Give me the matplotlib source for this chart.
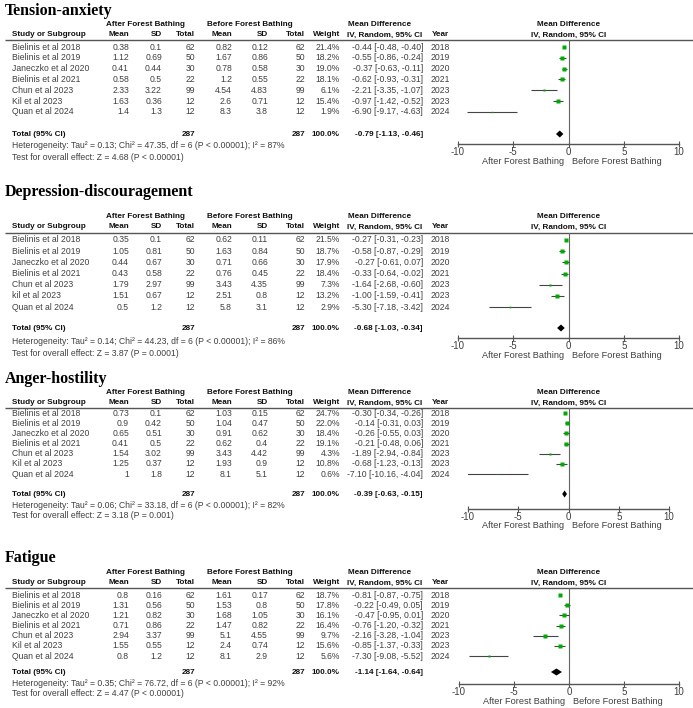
import matplotlib
matplotlib.use("Agg")
import matplotlib.pyplot as plt

W, H = 693, 708

studies = ["Bielinis et al 2018", "Bielinis et al 2019", "Janeczko et al 2020",
           "Bielinis et al 2021", "Chun et al 2023", "Kil et al 2023", "Quan et al 2024"]
dep_studies = ["Bielinis et al 2018", "Bielinis et al 2019", "Janeczko et al 2020",
               "Bielinis et al 2021", "Chun et al 2023", "kil et al 2023", "Quan et al 2024"]
years = [2018, 2019, 2020, 2021, 2023, 2023, 2024]
n_after = [62, 50, 30, 22, 99, 12, 12]
n_before = [62, 50, 30, 22, 99, 12, 12]
total_weight = "100.0%"

# Tension-anxiety
ta_m1 = [0.38, 1.12, 0.41, 0.58, 2.33, 1.63, 1.4]
ta_sd1 = [0.1, 0.69, 0.44, 0.5, 3.22, 0.36, 1.3]
ta_m2 = [0.82, 1.67, 0.78, 1.2, 4.54, 2.6, 8.3]
ta_sd2 = [0.12, 0.86, 0.58, 0.55, 4.83, 0.71, 3.8]
ta_w = [21.4, 18.2, 19.0, 18.1, 6.1, 15.4, 1.9]
ta_md = [-0.44, -0.55, -0.37, -0.62, -2.21, -0.97, -6.90]
ta_lo = [-0.48, -0.86, -0.63, -0.93, -3.35, -1.42, -9.17]
ta_hi = [-0.40, -0.24, -0.11, -0.31, -1.07, -0.52, -4.63]
ta_total = (-0.79, -1.13, -0.46)
ta_het = "Heterogeneity: Tau² = 0.13; Chi² = 47.35, df = 6 (P < 0.00001); I² = 87%"
ta_z = "Test for overall effect: Z = 4.68 (P < 0.00001)"

# Depression-discouragement
dd_m1 = [0.35, 1.05, 0.44, 0.43, 1.79, 1.51, 0.5]
dd_sd1 = [0.1, 0.81, 0.67, 0.58, 2.97, 0.67, 1.2]
dd_m2 = [0.62, 1.63, 0.71, 0.76, 3.43, 2.51, 5.8]
dd_sd2 = [0.11, 0.84, 0.66, 0.45, 4.35, 0.8, 3.1]
dd_w = [21.5, 18.7, 17.9, 18.4, 7.3, 13.2, 2.9]
dd_md = [-0.27, -0.58, -0.27, -0.33, -1.64, -1.00, -5.30]
dd_lo = [-0.31, -0.87, -0.61, -0.64, -2.68, -1.59, -7.18]
dd_hi = [-0.23, -0.29, 0.07, -0.02, -0.60, -0.41, -3.42]
dd_total = (-0.68, -1.03, -0.34)
dd_het = "Heterogeneity: Tau² = 0.14; Chi² = 44.23, df = 6 (P < 0.00001); I² = 86%"
dd_z = "Test for overall effect: Z = 3.87 (P = 0.0001)"

# Anger-hostility
ah_m1 = [0.73, 0.9, 0.65, 0.41, 1.54, 1.25, 1]
ah_sd1 = [0.1, 0.42, 0.51, 0.5, 3.02, 0.37, 1.8]
ah_m2 = [1.03, 1.04, 0.91, 0.62, 3.43, 1.93, 8.1]
ah_sd2 = [0.15, 0.47, 0.62, 0.4, 4.42, 0.9, 5.1]
ah_w = [24.7, 22.0, 18.4, 19.1, 4.3, 10.8, 0.6]
ah_md = [-0.30, -0.14, -0.26, -0.21, -1.89, -0.68, -7.10]
ah_lo = [-0.34, -0.31, -0.55, -0.48, -2.94, -1.23, -10.16]
ah_hi = [-0.26, 0.03, 0.03, 0.06, -0.84, -0.13, -4.04]
ah_total = (-0.39, -0.63, -0.15)
ah_het = "Heterogeneity: Tau² = 0.06; Chi² = 33.18, df = 6 (P < 0.00001); I² = 82%"
ah_z = "Test for overall effect: Z = 3.18 (P = 0.001)"

# Fatigue
fa_m1 = [0.8, 1.31, 1.21, 0.71, 2.94, 1.55, 0.8]
fa_sd1 = [0.16, 0.56, 0.82, 0.86, 3.37, 0.55, 1.2]
fa_m2 = [1.61, 1.53, 1.68, 1.47, 5.1, 2.4, 8.1]
fa_sd2 = [0.17, 0.8, 1.05, 0.82, 4.55, 0.74, 2.9]
fa_w = [18.7, 17.8, 16.1, 16.4, 9.7, 15.6, 5.6]
fa_md = [-0.81, -0.22, -0.47, -0.76, -2.16, -0.85, -7.30]
fa_lo = [-0.87, -0.49, -0.95, -1.20, -3.28, -1.37, -9.08]
fa_hi = [-0.75, 0.05, 0.01, -0.32, -1.04, -0.33, -5.52]
fa_total = (-1.14, -1.64, -0.64)
fa_het = "Heterogeneity: Tau² = 0.35; Chi² = 76.72, df = 6 (P < 0.00001); I² = 92%"
fa_z = "Test for overall effect: Z = 4.47 (P < 0.00001)"

panels = [
    dict(title="Tension-anxiety", names=studies, m1=ta_m1, sd1=ta_sd1, m2=ta_m2, sd2=ta_sd2,
         w=ta_w, md=ta_md, lo=ta_lo, hi=ta_hi, total=ta_total, het=ta_het, z=ta_z),
    dict(title="Depression-discouragement", names=dep_studies, m1=dd_m1, sd1=dd_sd1, m2=dd_m2,
         sd2=dd_sd2, w=dd_w, md=dd_md, lo=dd_lo, hi=dd_hi, total=dd_total, het=dd_het, z=dd_z),
    dict(title="Anger-hostility", names=studies, m1=ah_m1, sd1=ah_sd1, m2=ah_m2, sd2=ah_sd2,
         w=ah_w, md=ah_md, lo=ah_lo, hi=ah_hi, total=ah_total, het=ah_het, z=ah_z),
    dict(title="Fatigue", names=studies, m1=fa_m1, sd1=fa_sd1, m2=fa_m2, sd2=fa_sd2,
         w=fa_w, md=fa_md, lo=fa_lo, hi=fa_hi, total=fa_total, het=fa_het, z=fa_z),
]

# pixel layout of each panel
layouts = [
    dict(title_y=11, grp_y=24, hdr_y=35, line_y=40, row0=47, step=10.8, total_y=134,
         het_y=146, test_y=157, axis_y=144, fx0=458, fx1=679),
    dict(title_y=192, grp_y=216, hdr_y=227, line_y=233, row0=240, step=11.2, total_y=328,
         het_y=342, test_y=353, axis_y=338, fx0=458, fx1=679),
    dict(title_y=379, grp_y=393, hdr_y=403, line_y=408, row0=413, step=10.2, total_y=494,
         het_y=506, test_y=515, axis_y=509, fx0=468, fx1=669),
    dict(title_y=558, grp_y=573, hdr_y=583, line_y=588, row0=595, step=10.2, total_y=672,
         het_y=684, test_y=694, axis_y=684, fx0=459, fx1=679),
]

FS = 6.2
FSB = 5.9
TXT = "#404040"
GREEN = "#00aa00"
plt.rcParams["font.family"] = ["Liberation Sans", "DejaVu Sans"]

fig = plt.figure(figsize=(W / 100, H / 100), dpi=100)
bg = fig.add_axes([0, 0, 1, 1])
bg.set_xlim(0, W)
bg.set_ylim(H, 0)
bg.axis("off")


def t(x, y, s, ha="left", bold=False, color=None, size=None):
    bg.text(x, y, s, ha=ha, va="center", fontsize=size or (FSB if bold else FS),
            fontweight="bold" if bold else "normal",
            color=color or ("#111111" if bold else TXT))


def fmt_ci(md, lo, hi):
    return f"{md:.2f} [{lo:.2f}, {hi:.2f}]"


cols = dict(m1=129, sd1=162, n1=195, m2=232, sd2=268, n2=305, w=340, md=423)

for d, L in zip(panels, layouts):
    zx = (L["fx0"] + L["fx1"]) / 2
    bg.text(5, L["title_y"], d["title"], ha="left", va="center", fontsize=11.5,
            fontweight="bold", family="Liberation Serif", color="black")

    # group headers
    t(145, L["grp_y"], "After Forest Bathing", ha="center", bold=True)
    t(250, L["grp_y"], "Before Forest Bathing", ha="center", bold=True)
    t(348, L["grp_y"], "Mean Difference", bold=True)
    t(zx, L["grp_y"], "Mean Difference", ha="center", bold=True)

    # column headers
    t(12, L["hdr_y"], "Study or Subgroup", bold=True)
    for key, lab in [("m1", "Mean"), ("sd1", "SD"), ("n1", "Total"), ("m2", "Mean"),
                     ("sd2", "SD"), ("n2", "Total"), ("w", "Weight")]:
        t(cols[key], L["hdr_y"], lab, ha="right", bold=True)
    t(347, L["hdr_y"], "IV, Random, 95% CI", bold=True)
    t(432, L["hdr_y"], "Year", bold=True)
    t(zx, L["hdr_y"], "IV, Random, 95% CI", ha="center", bold=True)
    bg.hlines(L["line_y"], 5, W, color="#555555", lw=1.0)

    ys = [L["row0"] + i * L["step"] for i in range(len(d["names"]))]
    for i, y in enumerate(ys):
        t(12, y, d["names"][i])
        t(cols["m1"], y, f"{d['m1'][i]:g}", ha="right")
        t(cols["sd1"], y, f"{d['sd1'][i]:g}", ha="right")
        t(cols["n1"], y, f"{n_after[i]}", ha="right")
        t(cols["m2"], y, f"{d['m2'][i]:g}", ha="right")
        t(cols["sd2"], y, f"{d['sd2'][i]:g}", ha="right")
        t(cols["n2"], y, f"{n_before[i]}", ha="right")
        t(cols["w"], y, f"{d['w'][i]:.1f}%", ha="right")
        t(cols["md"], y, fmt_ci(d["md"][i], d["lo"][i], d["hi"][i]), ha="right")
        t(431, y, f"{years[i]}")

    ty = L["total_y"]
    t(12, ty, "Total (95% CI)", bold=True)
    t(cols["n1"], ty, f"{sum(n_after)}", ha="right", bold=True)
    t(cols["n2"], ty, f"{sum(n_before)}", ha="right", bold=True)
    t(cols["w"], ty, total_weight, ha="right", bold=True)
    t(cols["md"], ty, fmt_ci(*d["total"]), ha="right", bold=True)
    t(12, L["het_y"], d["het"])
    t(12, L["test_y"], d["z"])

    # forest plot
    ax = fig.add_axes([L["fx0"] / W, 1 - L["axis_y"] / H,
                       (L["fx1"] - L["fx0"]) / W, (L["axis_y"] - L["line_y"]) / H])
    ax.patch.set_alpha(0)
    ax.set_xlim(-10, 10)
    ax.set_ylim(L["axis_y"], L["line_y"])
    for s in ("top", "left", "right"):
        ax.spines[s].set_visible(False)
    ax.spines["bottom"].set_color("#555555")
    ax.spines["bottom"].set_linewidth(1.0)
    ax.set_yticks([])
    ax.set_xticks([-10, -5, 0, 5, 10])
    ax.set_xticklabels(["-10", "-5", "0", "5", "10"])
    ax.tick_params(axis="x", direction="inout", length=4, width=0.8, color="#555555",
                   labelsize=7, labelcolor=TXT, pad=0.5)
    ax.axvline(0, color="#666666", lw=0.8)
    for i, y in enumerate(ys):
        ax.hlines(y, d["lo"][i], d["hi"][i], color="#444444", lw=0.8)
        ax.plot(d["md"][i], y, marker="s", ms=0.7 * d["w"][i] ** 0.5, color=GREEN, mec="none")
    md, lo, hi = d["total"]
    ax.fill([lo, md, hi, md], [ty, ty - 3.5, ty, ty + 3.5], color="black", lw=0)

    lab_y = L["axis_y"] + 17
    t(zx - 4, lab_y, "After Forest Bathing", ha="right", size=6.6)
    t(zx + 4, lab_y, "Before Forest Bathing", size=6.6)

fig.savefig("out.png", dpi=100)
